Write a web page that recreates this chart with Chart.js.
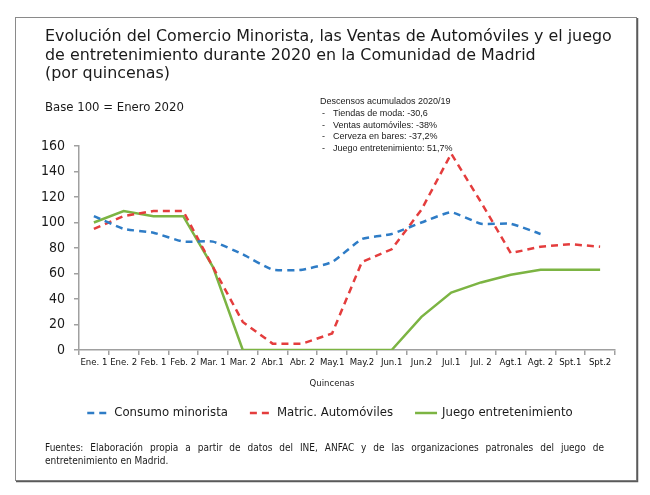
<!DOCTYPE html>
<html><head><meta charset="utf-8">
<script src="https://cdn.jsdelivr.net/npm/chart.js@4.4.0/dist/chart.umd.min.js"></script>
<style>html,body{margin:0;padding:0;background:#fff;}#wrap{width:650px;height:495px;position:relative;}</style>
</head><body><div id="wrap"><canvas id="c" width="650" height="495"></canvas></div>
<script>
const categories = ["Ene. 1","Ene. 2","Feb. 1","Feb. 2","Mar. 1","Mar. 2","Abr.1","Abr. 2","May.1","May.2","Jun.1","Jun.2","Jul.1","Jul. 2","Agt.1","Agt. 2","Spt.1","Spt.2"];
const consumoMinorista = [105, 95, 92, 85, 85, 75, 63, 63, 69, 87, 91, 100, 108, 99, 99, 91, null, null];
const matricAutomoviles = [95, 105, 109, 109, 65, 22, 5, 5, 13, 69, 79, 110, 154, 116, 76, 81, 83, 81];
const juegoEntretenimiento = [100, 109, 105, 105, 65, 0, 0, 0, 0, 0, 0, 26, 45, 53, 59, 63, 63, 63];
const seriesNames = ["Consumo minorista", "Matric. Automóviles", "Juego entretenimiento"];
const yMin = 0, yMax = 160, yStep = 20;
const titleLines = ["Evolución del Comercio Minorista, las Ventas de Automóviles y el juego", "de entretenimiento durante 2020 en la Comunidad de Madrid", "(por quincenas)"];
const baseText = "Base 100 = Enero 2020";
const notesTitle = "Descensos acumulados 2020/19";
const notes = ["Tiendas de moda: -30,6", "Ventas automóviles: -38%", "Cerveza en bares: -37,2%", "Juego entretenimiento: 51,7%"];
const xTitle = "Quincenas";
const footerLines = ["Fuentes: Elaboración propia a partir de datos del INE, ANFAC y de las organizaciones patronales del juego de", "entretenimiento en Madrid."];

const FONT = "'DejaVu Sans Condensed', 'DejaVu Sans', sans-serif";
const TXT = '#1a1a1a';

const decor = {
  id: 'decor',
  beforeDraw(chart) {
    const ctx = chart.ctx;
    ctx.save();
    ctx.fillStyle = '#fff';
    ctx.fillRect(0, 0, chart.width, chart.height);
    ctx.strokeStyle = '#8a8a8a';
    ctx.lineWidth = 1;
    ctx.strokeRect(15.5, 17.5, 621, 463);
    ctx.strokeStyle = '#5a5a5a';
    ctx.lineWidth = 1.5;
    ctx.beginPath();
    ctx.moveTo(637.5, 18); ctx.lineTo(637.5, 481.5); ctx.lineTo(16, 481.5);
    ctx.stroke();
    ctx.restore();
  },
  afterDraw(chart) {
    const ctx = chart.ctx;
    ctx.save();
    ctx.fillStyle = TXT;
    ctx.textBaseline = 'middle';
    ctx.textAlign = 'left';
    ctx.font = "15.9px 'DejaVu Sans', sans-serif";
    titleLines.forEach((t, i) => ctx.fillText(t, 45, 37 + i * 18.6));
    ctx.font = "13px " + FONT;
    ctx.fillText(baseText, 45, 108);
    ctx.font = "9px 'Liberation Sans', Arial, sans-serif";
    ctx.fillText(notesTitle, 320, 102);
    notes.forEach((t, i) => {
      ctx.fillText("-", 322, 113.5 + i * 11.6);
      ctx.fillText(t, 333, 113.5 + i * 11.6);
    });
    // x title
    ctx.font = "9.5px " + FONT;
    ctx.textAlign = 'center';
    ctx.fillText(xTitle, 332, 384);
    // legend
    ctx.font = "13px " + FONT;
    ctx.textAlign = 'left';
    const lineW = 22, gapT = 5, gapI = 22;
    const ws = chart.data.datasets.map(d => ctx.measureText(d.label).width);
    const total = ws.reduce((a, w) => a + lineW + gapT + w, 0) + gapI * (ws.length - 1);
    let x = 330 - total / 2;
    const ly = 413;
    chart.data.datasets.forEach((d, i) => {
      ctx.save();
      ctx.strokeStyle = d.borderColor;
      ctx.lineWidth = d.borderWidth;
      ctx.setLineDash(d.borderDash || []);
      ctx.beginPath();
      ctx.moveTo(x, ly); ctx.lineTo(x + lineW, ly);
      ctx.stroke();
      ctx.restore();
      ctx.fillStyle = TXT;
      ctx.fillText(d.label, x + lineW + gapT, ly);
      x += lineW + gapT + ws[i] + gapI;
    });
    // footer (first line justified)
    ctx.font = "10px " + FONT;
    const fx0 = 45, fx1 = 604;
    const words = footerLines[0].split(' ');
    const wsum = words.reduce((a, w) => a + ctx.measureText(w).width, 0);
    const gap = (fx1 - fx0 - wsum) / (words.length - 1);
    let fx = fx0;
    words.forEach(w => { ctx.fillText(w, fx, 448); fx += ctx.measureText(w).width + gap; });
    ctx.fillText(footerLines[1], fx0, 461);
    ctx.restore();
  }
};

new Chart(document.getElementById('c'), {
  type: 'line',
  data: {
    labels: categories,
    datasets: [
      { label: seriesNames[0], data: consumoMinorista, borderColor: '#2E7CC6', borderWidth: 2.5, borderDash: [7, 5], pointRadius: 0, fill: false, tension: 0.15, spanGaps: false },
      { label: seriesNames[1], data: matricAutomoviles, borderColor: '#E43D3D', borderWidth: 2.5, borderDash: [7, 5], pointRadius: 0, fill: false, tension: 0 },
      { label: seriesNames[2], data: juegoEntretenimiento, borderColor: '#7CB443', borderWidth: 2.5, pointRadius: 0, fill: false, tension: 0 }
    ]
  },
  options: {
    responsive: false,
    animation: false,
    devicePixelRatio: 1,
    layout: { padding: { left: 29, right: 35, top: 146, bottom: 125 } },
    plugins: { legend: { display: false }, title: { display: false }, tooltip: { enabled: false } },
    scales: {
      x: {
        type: 'category',
        offset: true,
        grid: { display: true, drawOnChartArea: false, drawTicks: true, tickLength: 5, color: '#a0a0a0', lineWidth: 1.5, offset: true },
        border: { display: true, color: '#a0a0a0', width: 1.5 },
        ticks: { font: { family: FONT, size: 9.5 }, color: '#111', maxRotation: 0, minRotation: 0, autoSkip: false, padding: 2 },
        afterFit: s => { s.height = 20; }
      },
      y: {
        min: yMin, max: yMax,
        grid: { display: true, drawOnChartArea: false, drawTicks: true, tickLength: 5, color: '#a0a0a0', lineWidth: 1.5 },
        border: { display: true, color: '#a0a0a0', width: 1.5 },
        ticks: { stepSize: yStep, font: { family: FONT, size: 14 }, color: TXT, padding: 9 },
        afterFit: s => { s.width = 50; }
      }
    }
  },
  plugins: [decor]
});
</script></body></html>
